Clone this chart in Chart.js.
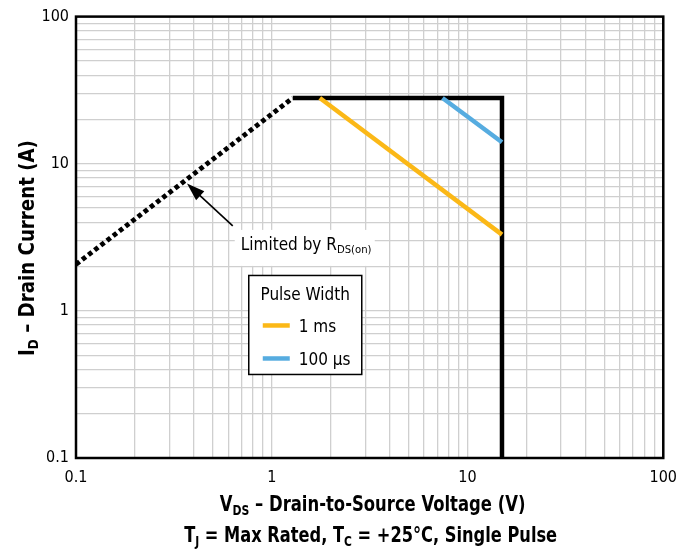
<!DOCTYPE html>
<html>
<head>
<meta charset="utf-8">
<script src="https://cdn.jsdelivr.net/npm/chart.js@4/dist/chart.umd.min.js"></script>
<style>
  html, body { margin: 0; padding: 0; background: #fff; }
  #wrap { width: 687px; height: 555px; }
</style>
</head>
<body>
<div id="wrap"><canvas id="soa"></canvas></div>
<script>
// safe operating area
const rdsX = [0.1, 1.28];
const rdsY = [2.07, 28];
const limitX = [1.28, 15, 15];
const limitY = [28, 28, 0.1];
const ms1X = [1.76, 15];
const ms1Y = [28, 3.3];
const us100X = [7.45, 15];
const us100Y = [28, 14];

const pulseNames = ['1 ms', '100 µs'];
const pulseColors = ['#FBB817', '#56ACE0'];
const decadeTicks = [0.1, 1, 10, 100];

const FONT = "'Liberation Sans Narrow', 'DejaVu Sans Condensed', sans-serif";

function pts(xs, ys) {
  return xs.map((x, i) => ({ x: x, y: ys[i] }));
}

// 1..9 per decade, labels only on decades
function logTicks(scale) {
  const t = [];
  for (let d = 0; d < decadeTicks.length - 1; d++) {
    for (let k = 1; k <= 9; k++) t.push({ value: decadeTicks[d] * k });
  }
  t.push({ value: decadeTicks[decadeTicks.length - 1] });
  scale.ticks = t;
}
function decadeLabel(v) {
  return decadeTicks.some(d => Math.abs(d - v) < 1e-9) ? String(v) : '';
}

// text with subscripts: parts = [[text, isSub], ...], sx squeezes horizontally
function subText(ctx, parts, x, y, size, bold, align, sx) {
  sx = sx || 1;
  const w = f => (bold ? 'bold ' : '') + f + 'px ' + FONT;
  let total = 0;
  parts.forEach(p => { ctx.font = w(p[1] ? size * 0.66 : size); total += ctx.measureText(p[0]).width; });
  ctx.save();
  ctx.translate(x, y);
  ctx.scale(sx, 1);
  let cx = align === 'center' ? -total / 2 : 0;
  ctx.textAlign = 'left';
  ctx.textBaseline = 'alphabetic';
  parts.forEach(p => {
    ctx.font = w(p[1] ? size * 0.66 : size);
    ctx.fillText(p[0], cx, p[1] ? size * 0.2 : 0);
    cx += ctx.measureText(p[0]).width;
  });
  ctx.restore();
}

const decorations = {
  id: 'decorations',
  afterDatasetsDraw(chart) {
    const ctx = chart.ctx;
    const a = chart.chartArea;
    const xs = chart.scales.x, ys = chart.scales.y;
    ctx.save();
    // frame
    ctx.strokeStyle = '#000';
    ctx.lineWidth = 2.5;
    ctx.strokeRect(a.left, a.top, a.right - a.left, a.bottom - a.top);

    // Limited by RDS(on) note + arrow
    const tipX = xs.getPixelForValue(0.369), tipY = ys.getPixelForValue(7.34);
    const tailX = xs.getPixelForValue(0.632), tailY = ys.getPixelForValue(3.78);
    ctx.fillStyle = '#fff';
    ctx.fillRect(tailX + 2, tailY + 4, 140, 36);
    ctx.strokeStyle = '#000';
    ctx.fillStyle = '#000';
    ctx.lineWidth = 1.6;
    const ang = Math.atan2(tipY - tailY, tipX - tailX);
    const c = Math.cos(ang), s = Math.sin(ang);
    ctx.beginPath();
    ctx.moveTo(tailX, tailY);
    ctx.lineTo(tipX - 10 * c, tipY - 10 * s);
    ctx.stroke();
    ctx.beginPath();
    ctx.moveTo(tipX, tipY);
    ctx.lineTo(tipX - 18 * c + 6 * s, tipY - 18 * s - 6 * c);
    ctx.lineTo(tipX - 18 * c - 6 * s, tipY - 18 * s + 6 * c);
    ctx.closePath();
    ctx.fill();
    subText(ctx, [['Limited by R', false], ['DS(on)', true]], tailX + 8, tailY + 24, 17, false, 'left');

    // legend box
    const lx = xs.getPixelForValue(0.763), ly = ys.getPixelForValue(1.74);
    const lw = 113, lh = 99;
    ctx.fillStyle = '#fff';
    ctx.fillRect(lx, ly, lw, lh);
    ctx.strokeStyle = '#000';
    ctx.lineWidth = 1.5;
    ctx.strokeRect(lx, ly, lw, lh);
    ctx.fillStyle = '#000';
    subText(ctx, [['Pulse Width', false]], lx + lw / 2, ly + 25, 17, false, 'center');
    pulseNames.forEach((name, i) => {
      const yy = ly + 50 + i * 33;
      ctx.strokeStyle = pulseColors[i];
      ctx.lineWidth = 4.5;
      ctx.beginPath();
      ctx.moveTo(lx + 14, yy);
      ctx.lineTo(lx + 41, yy);
      ctx.stroke();
      ctx.fillStyle = '#000';
      subText(ctx, [[name, false]], lx + 50, yy + 7, 17, false, 'left');
    });

    // axis titles
    ctx.fillStyle = '#000';
    const midX = (a.left + a.right) / 2;
    subText(ctx, [['V', false], ['DS', true], [' – Drain-to-Source Voltage (V)', false]], midX + 3, 511, 22, true, 'center', 0.83);
    subText(ctx, [['T', false], ['J', true], [' = Max Rated, T', false], ['C', true], [' = +25°C, Single Pulse', false]], midX + 1, 542, 22, true, 'center', 0.82);
    ctx.translate(34, 248);
    ctx.rotate(-Math.PI / 2);
    subText(ctx, [['I', false], ['D', true], [' – Drain Current (A)', false]], 0, 0, 22, true, 'center', 0.92);
    ctx.restore();
  }
};

new Chart(document.getElementById('soa'), {
  type: 'scatter',
  data: {
    datasets: [
      { label: pulseNames[0], data: pts(ms1X, ms1Y), showLine: true, borderColor: pulseColors[0], borderWidth: 4.5, pointRadius: 0 },
      { label: pulseNames[1], data: pts(us100X, us100Y), showLine: true, borderColor: pulseColors[1], borderWidth: 4.5, pointRadius: 0 },
      { label: 'RDS(on)', data: pts(rdsX, rdsY), showLine: true, borderColor: '#000', borderWidth: 5, borderDash: [4.5, 3.3], pointRadius: 0 },
      { label: 'limit', data: pts(limitX, limitY), showLine: true, borderColor: '#000', borderWidth: 4.5, pointRadius: 0, borderJoinStyle: 'miter' }
    ]
  },
  options: {
    responsive: true,
    maintainAspectRatio: false,
    animation: false,
    layout: { padding: { top: 11, right: 22, left: 0, bottom: 0 } },
    plugins: {
      legend: { display: false },
      tooltip: { enabled: false }
    },
    scales: {
      x: {
        type: 'logarithmic',
        min: 0.1,
        max: 100,
        afterBuildTicks: logTicks,
        afterFit: s => { s.height = 97; },
        grid: { color: '#cfcfcf', lineWidth: 1.3, drawTicks: false },
        border: { display: false },
        ticks: {
          autoSkip: false,
          maxRotation: 0,
          padding: 10,
          color: '#000',
          font: { family: FONT, size: 16 },
          callback: decadeLabel
        }
      },
      y: {
        type: 'logarithmic',
        min: 0.1,
        max: 100,
        afterBuildTicks: logTicks,
        afterFit: s => { s.width = 76; },
        grid: { color: '#cfcfcf', lineWidth: 1.3, drawTicks: false },
        border: { display: false },
        ticks: {
          autoSkip: false,
          padding: 7,
          color: '#000',
          font: { family: FONT, size: 16 },
          callback: decadeLabel
        }
      }
    }
  },
  plugins: [decorations]
});
</script>
</body>
</html>
